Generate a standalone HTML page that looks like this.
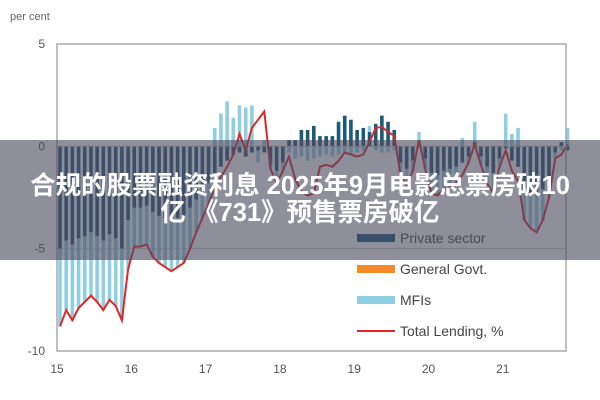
<!DOCTYPE html>
<html><head><meta charset="utf-8"><style>
body{margin:0;width:600px;height:400px;overflow:hidden;background:#fff;font-family:"Liberation Sans","Noto Sans CJK SC",sans-serif;}
#banner{position:absolute;left:0;top:140px;width:600px;height:120px;background:rgba(75,75,95,0.62);color:#fff;font-weight:bold;font-size:25.5px;text-align:center;line-height:27px;box-sizing:border-box;padding-top:33px;white-space:nowrap;font-family:"Liberation Sans","Noto Sans CJK SC",sans-serif;}
</style></head><body>
<svg id="chart" width="600" height="400" style="position:absolute;left:0;top:0" font-family="Liberation Sans, sans-serif"></svg>
<div id="banner"><div>合规的股票融资利息 2025年9月电影总票房破10</div><div>亿 《731》预售票房破亿</div></div>
<script>
const yTicks=[5,0,-5,-10];
const xYears=[15,16,17,18,19,20,21];
const total=[-8.8,-8.0,-8.5,-7.9,-7.6,-7.3,-7.6,-8.0,-7.5,-7.8,-8.5,-6.0,-4.9,-4.9,-4.8,-5.4,-5.7,-5.9,-6.1,-5.9,-5.7,-5.0,-4.2,-3.5,-2.8,-2.0,-1.5,-1.0,-0.4,0.6,-0.2,0.9,1.3,1.7,-1.1,-1.8,-1.2,-0.5,-1.6,-2.2,-2.4,-2.3,-1.0,-0.9,-1.0,-0.7,-0.3,-0.4,-0.5,-0.4,0.2,0.9,0.95,0.7,0.5,-1.4,-1.9,-1.2,0.3,-1.1,-2.3,-2.4,-2.1,-2.0,-1.8,-1.4,-0.8,0.1,-0.9,-1.8,-2.3,-1.0,-0.2,-1.2,-1.7,-3.6,-4.0,-4.2,-3.6,-2.5,-0.6,-0.4,0.1];
const priv=[-5,-4.6,-4.8,-4.5,-4.4,-4.2,-4.4,-4.6,-4.3,-4.5,-5,-3.6,-3,-3,-2.9,-3.2,-3.4,-3.5,-3.6,-3.5,-3.4,-3,-2.6,-2.2,-1.8,-1.3,-1,-0.7,-0.4,-0.3,-0.5,-0.3,-0.2,-0.3,-0.9,-1.2,-0.8,0.3,0.3,0.8,0.8,1,0.5,0.5,0.5,1.2,1.5,1.3,0.8,0.9,0.7,1.1,1.5,1.2,0.8,-0.8,-1.1,-0.7,0.2,-0.6,-1.3,-1.4,-1.2,-1.1,-1,-0.8,-0.5,0.2,-0.5,-1,-1.3,-0.6,-0.1,-0.7,-1,-2.1,-2.3,-2.4,-2.1,-1.5,-0.3,0.2,-0.2];
const mfi=[-3.8,-3.4,-3.7,-3.4,-3.2,-3.1,-3.2,-3.4,-3.2,-3.3,-3.5,-2.4,-1.9,-1.9,-1.9,-2.2,-2.3,-2.4,-2.5,-2.4,-2.3,-2,-1.6,-1.3,-1,0.9,1.6,2.2,1.4,2,1.9,2,-0.6,0.3,-0.2,-0.6,-0.4,-0.3,-0.6,-0.5,-0.7,-0.6,-0.5,-0.4,-0.5,-0.4,-0.3,-0.4,-0.3,-0.2,0.3,-0.2,-0.3,-0.3,-0.2,-0.6,-0.8,-0.5,0.5,-0.5,-1,-1,-0.9,-0.9,-0.8,0.4,-0.3,1,-0.4,-0.8,-1,-0.4,1.6,0.6,0.9,-1.5,-1.7,-1.8,-1.5,-1,-0.3,-0.2,0.9];
const legendItems=["Private sector","General Govt.","MFIs","Total Lending, %"];
const legendColors=["#1d5a78","#f28a30","#8fcfe2","#e02626"];
const svg=document.getElementById('chart');
const NS='http://www.w3.org/2000/svg';
const L=57,R=566,T=44,B=351;
function y(v){return T+(5-v)*(B-T)/15;}
function x(i){return L+3+i*6.19;}
function xy(yr){return L+(yr-15)*74.3;}
function mk(tag,attrs,parent){const e=document.createElementNS(NS,tag);for(const k in attrs)e.setAttribute(k,attrs[k]);(parent||svg).appendChild(e);return e;}
let t=mk('text',{x:10,y:20,'font-size':11,fill:'#666'});t.textContent='per cent';


yTicks.forEach(v=>{const e=mk('text',{x:45,y:y(v)+4,'font-size':12,fill:'#555','text-anchor':'end'});e.textContent=v;

});
xYears.forEach(v=>{const e=mk('text',{x:xy(v),y:373,'font-size':12,fill:'#555','text-anchor':'middle'});e.textContent=v;

});
mk('line',{x1:L,x2:R,y1:y(-5),y2:y(-5),stroke:'#ccc'});
for(let i=0;i<total.length;i++){
  let pos=0,neg=0;
  [[priv[i],legendColors[0]],[mfi[i],legendColors[2]]].forEach(([v,c])=>{
    let y0,h;
    if(v>=0){y0=y(pos+v);h=y(pos)-y0;pos+=v;}else{y0=y(neg);h=y(neg+v)-y0;neg+=v;}
    const r=mk('rect',{x:x(i)-1.8,y:y0,width:3.6,height:h,fill:c});
    
    
  });
}
mk('line',{x1:L,x2:R,y1:y(0),y2:y(0),stroke:'#bbb'});
let d=total.map((v,i)=>(i?'L':'M')+x(i).toFixed(1)+','+y(v).toFixed(1)).join('');
const ln=mk('path',{d:d,fill:'none',stroke:legendColors[3],'stroke-width':2});


const fr=mk('rect',{x:L,y:T,width:R-L,height:B-T,fill:'none',stroke:'#aaa','stroke-width':1.5});


legendItems.forEach((s,k)=>{
  const yy=238+k*31;
  const g=mk('g',{});
  
  
  if(k<3)mk('rect',{x:357,y:yy-4,width:38,height:8,fill:legendColors[k]},g);
  else mk('line',{x1:357,x2:395,y1:yy,y2:yy,stroke:legendColors[k],'stroke-width':2},g);
  const tx=mk('text',{x:400,y:yy+5,'font-size':14,fill:'#444'},g);tx.textContent=s;
});
</script>
</body></html>
